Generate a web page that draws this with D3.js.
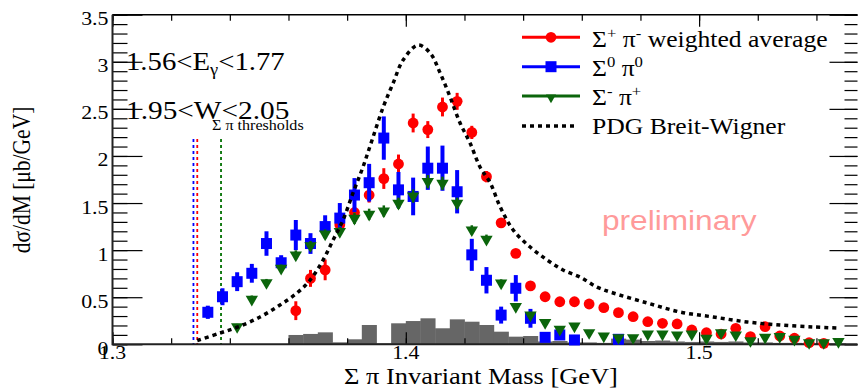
<!DOCTYPE html>
<html><head><meta charset="utf-8">
<script src="https://cdn.jsdelivr.net/npm/d3@7"></script>
<style>html,body{margin:0;padding:0;background:#fff;} svg{display:block}</style>
</head><body><svg id="c" width="859" height="389"></svg>
<script>
// ---------------- data ----------------
const massRed = [1.3625,1.3675,1.3725,1.3775,1.3825,1.3875,1.3925,1.3975,1.4025,1.4075,1.4125,1.4175,1.4225,1.4275,1.4325,1.4375,1.4425,1.4475,1.4525,1.4575,1.4625,1.4675,1.4725,1.4775,1.4825,1.4875,1.4925,1.4975,1.5025,1.5075,1.5125,1.5175,1.5225,1.5275,1.5325,1.5375,1.5425];
const valRed  = [0.357,0.70,0.79,1.27,1.40,1.585,1.76,1.915,2.35,2.28,2.52,2.58,2.25,1.78,1.29,0.966,0.62,0.505,0.452,0.452,0.428,0.389,0.336,0.293,0.24,0.223,0.216,0.152,0.123,0.109,0.17,0.081,0.187,0.088,0.064,0.017,0.01];
const errRed  = [0.10,0.09,0.11,0.08,0.08,0.08,0.11,0.10,0.10,0.09,0.10,0.09,0.07,0.06,0.05,0.04,0.03,0.03,0.03,0.03,0.03,0.03,0.03,0.03,0.03,0.03,0.03,0.03,0.03,0.03,0.03,0.03,0.03,0.03,0.03,0.03,0.03];

const massBlue = [1.3325,1.3375,1.3425,1.3475,1.3525,1.3575,1.3625,1.3675,1.3725,1.3775,1.3825,1.3875,1.3925,1.3975,1.4025,1.4075,1.4125,1.4175,1.4225,1.4275,1.4325,1.4375,1.4425,1.4475,1.4525,1.4575,1.4725];
const valBlue  = [0.34,0.505,0.665,0.754,1.07,0.866,1.16,1.07,1.25,1.34,1.585,1.716,2.19,1.64,1.57,1.87,1.87,1.62,0.95,0.68,0.31,0.595,0.276,0.074,0.099,0.046,0.053];
const errBlue  = [0.07,0.09,0.10,0.10,0.13,0.08,0.16,0.11,0.12,0.16,0.18,0.20,0.23,0.19,0.20,0.23,0.24,0.23,0.17,0.14,0.09,0.14,0.10,0.03,0.03,0.03,0.03];

const massGreen = [1.3425,1.3475,1.3525,1.3575,1.3625,1.3675,1.3725,1.3775,1.3825,1.3875,1.3925,1.3975,1.4025,1.4075,1.4125,1.4175,1.4225,1.4275,1.4325,1.4375,1.4425,1.4475,1.4525,1.4575,1.4625,1.4675,1.4725,1.4775,1.4825,1.4875,1.4925,1.4975,1.5025,1.5075,1.5125,1.5175,1.5225,1.5275,1.5325,1.5375,1.5425,1.5475];
const valGreen  = [0.187,0.478,0.654,0.807,0.948,1.047,1.17,1.196,1.338,1.38,1.415,1.497,1.575,1.727,1.71,1.497,1.214,1.115,0.65,0.40,0.311,0.23,0.159,0.194,0.123,0.088,0.07,0.07,0.109,0.109,0.099,0.109,0.064,0.123,0.099,0.038,0.074,0.081,0.053,0.017,0.017,0.028];
const errGreen  = [0.03,0.04,0.04,0.04,0.05,0.05,0.05,0.05,0.06,0.06,0.06,0.06,0.07,0.07,0.07,0.06,0.05,0.05,0.04,0.03,0.03,0.02,0.02,0.02,0.02,0.02,0.02,0.02,0.02,0.02,0.02,0.02,0.02,0.02,0.02,0.02,0.02,0.02,0.02,0.02,0.02,0.02];

// PDG Breit-Wigner curve
const bwMass = [1.3289,1.3367,1.3428,1.3503,1.3571,1.3629,1.3674,1.3718,1.3752,1.3786,1.3820,1.3854,1.3885,1.3923,1.3957,1.3991,1.4042,1.4083,1.4117,1.4151,1.4185,1.4219,1.4253,1.4288,1.4322,1.4366,1.4424,1.4482,1.4536,1.4594,1.4652,1.4707,1.4823,1.4935,1.5048,1.5164,1.5276,1.5389,1.5474];
const bwVal  = [0.04,0.12,0.184,0.29,0.417,0.545,0.683,0.895,1.107,1.32,1.607,1.883,2.169,2.52,2.775,3.02,3.178,3.093,2.881,2.626,2.35,2.138,1.883,1.713,1.458,1.214,1.033,0.895,0.789,0.714,0.608,0.545,0.439,0.343,0.29,0.237,0.205,0.184,0.173];

// background histogram (bin low edges, width 0.005)
const histEdge = [1.360,1.365,1.370,1.375,1.380,1.385,1.390,1.395,1.400,1.405,1.410,1.415,1.420,1.425,1.430,1.435,1.440,1.445,1.450,1.455,1.460,1.465,1.470,1.475,1.480,1.485,1.490,1.495,1.500,1.505,1.510,1.515,1.520,1.525,1.530,1.535,1.540,1.545];
const histVal  = [0.099,0.11,0.127,0.021,0.053,0.205,0.01,0.223,0.247,0.276,0.17,0.265,0.24,0.205,0.134,0.081,0.088,0.03,0.035,0.02,0.02,0.015,0.06,0.05,0.035,0.04,0.03,0.025,0.03,0.025,0.03,0.02,0.02,0.015,0.015,0.01,0.01,0.01];
const histWidth = 0.005;

// Sigma-pi thresholds: Sigma0 pi0, Sigma+ pi-, Sigma- pi+
const thrMass = [1.3276,1.3289,1.3370];
const thrColor = ["#0000ff","#ff0000","#007000"];
const thrTop = 2.18;

const xTickLabels = ["1.3","1.4","1.5"];
const xTickVals = [1.3,1.4,1.5];
const yTickLabels = ["0","0.5","1","1.5","2","2.5","3","3.5"];
const yTickVals = [0,0.5,1,1.5,2,2.5,3,3.5];

const legendLabels = ["weighted average","","","PDG Breit-Wigner"];

// ---------------- drawing ----------------
const svg = d3.select("#c");
const L = 112.5, R = 857.5, T = 14.7, B = 344.3;
const x = d3.scaleLinear().domain([1.3, 1.554]).range([L, R]);
const y = d3.scaleLinear().domain([0, 3.5]).range([B, T]);
const SX = 1.15;
const SERIF = "'Liberation Serif','Times New Roman',serif";
const RED = "#ff0000", BLUE = "#0000ff", GREEN = "#0b650b";

function text(px, py, size, anchor, family) {
  return svg.append("text")
    .attr("transform", `translate(${px},${py}) scale(${SX},1)`)
    .attr("text-anchor", anchor)
    .style("font-family", family || SERIF)
    .style("font-size", size + "px")
    .attr("fill", "#000");
}

// histogram
svg.append("g").selectAll("rect").data(histEdge).join("rect")
  .attr("x", d => x(d))
  .attr("width", d => x(d + histWidth) - x(d) + 0.4)
  .attr("y", (d, i) => y(histVal[i]))
  .attr("height", (d, i) => y(0) - y(histVal[i]))
  .attr("fill", "#666666");

// threshold lines
svg.append("g").selectAll("line").data(thrMass).join("line")
  .attr("x1", d => x(d)).attr("x2", d => x(d))
  .attr("y1", y(thrTop)).attr("y2", y(0))
  .attr("stroke", (d, i) => thrColor[i])
  .attr("stroke-width", 1.8)
  .attr("stroke-dasharray", "3,3");

// axes ticks
const yMinor = d3.range(0, 3.51, 0.1).map(v => +v.toFixed(2));
const xMinor = d3.range(1.3, 1.555, 0.02).map(v => +v.toFixed(3));
const xMajor = [1.3, 1.4, 1.5];
function ticks(axisGen, tr) {
  const g = svg.append("g").attr("transform", tr).call(axisGen);
  g.select(".domain").remove();
  g.selectAll("line").attr("stroke", "#000").attr("stroke-width", 1.2);
  g.selectAll("text").remove();
}
ticks(d3.axisLeft(y).tickValues(yMinor).tickSize(-15), `translate(${L},0)`);
ticks(d3.axisLeft(y).tickValues(yTickVals).tickSize(-30), `translate(${L},0)`);
ticks(d3.axisRight(y).tickValues(yMinor).tickSize(-13), `translate(${R},0)`);
ticks(d3.axisRight(y).tickValues(yTickVals).tickSize(-28), `translate(${R},0)`);
ticks(d3.axisBottom(x).tickValues(xMinor).tickSize(-6), `translate(0,${B})`);
ticks(d3.axisBottom(x).tickValues(xMajor).tickSize(-12), `translate(0,${B})`);
ticks(d3.axisTop(x).tickValues(xMinor).tickSize(-6), `translate(0,${T})`);
ticks(d3.axisTop(x).tickValues(xMajor).tickSize(-12), `translate(0,${T})`);

// frame
svg.append("path")
  .attr("d", `M${L},${T}H${R}`).attr("stroke", "#000").attr("stroke-width", 1.5).attr("fill", "none");
svg.append("path")
  .attr("d", `M${L},${T}V${B}H${R}`).attr("stroke", "#222").attr("stroke-width", 2).attr("fill", "none");

// tick labels
yTickVals.forEach((v, i) => text(L - 4, y(v) + 10.5, 19, "end").text(yTickLabels[i]));
xTickVals.forEach((v, i) => text(x(v), B + 15, 19, "middle").text(xTickLabels[i]));

// axis titles
svg.append("text")
  .attr("transform", `translate(30,180) scale(${SX},1) rotate(-90)`)
  .attr("text-anchor", "middle")
  .style("font-family", SERIF).style("font-size", "21.5px")
  .text("dσ/dM [μb/GeV]");
text(481, 384, 23, "middle").text("Σ π Invariant Mass [GeV]");

// data
function errbars(mass, val, err, color, w) {
  svg.append("g").selectAll("line").data(mass).join("line")
    .attr("x1", d => x(d)).attr("x2", d => x(d))
    .attr("y1", (d, i) => y(Math.max(0, val[i] - err[i])))
    .attr("y2", (d, i) => y(val[i] + err[i]))
    .attr("stroke", color).attr("stroke-width", w);
}
errbars(massRed, valRed, errRed, RED, 3);
svg.append("g").selectAll("circle").data(massRed).join("circle")
  .attr("cx", d => x(d)).attr("cy", (d, i) => y(valRed[i])).attr("r", 5.4).attr("fill", RED);

errbars(massBlue, valBlue, errBlue, BLUE, 4);
svg.append("g").selectAll("rect").data(massBlue).join("rect")
  .attr("x", d => x(d) - 5.5).attr("y", (d, i) => y(valBlue[i]) - 5.5)
  .attr("width", 11).attr("height", 11).attr("fill", BLUE);

errbars(massGreen, valGreen, errGreen, GREEN, 2.5);
const tri = d3.symbol(d3.symbolTriangle, 66);
svg.append("g").selectAll("path").data(massGreen).join("path")
  .attr("d", tri)
  .attr("transform", (d, i) => `translate(${x(d)},${y(valGreen[i])}) rotate(180)`)
  .attr("fill", GREEN);

// BW curve
svg.append("path")
  .datum(bwMass.map((m, i) => [m, bwVal[i]]))
  .attr("d", d3.line().x(d => x(d[0])).y(d => y(d[1])).curve(d3.curveCatmullRom))
  .attr("fill", "none").attr("stroke", "#000").attr("stroke-width", 3.5)
  .attr("stroke-dasharray", "4,4");

// annotations
const t1 = text(126, 70, 25, "start");
t1.append("tspan").text("1.56<E");
t1.append("tspan").attr("dy", 5).style("font-size", "16px").text("γ");
t1.append("tspan").attr("dy", -5).text("<1.77");
text(126, 119, 25.5, "start").text("1.95<W<2.05");
text(212, 130, 14, "start").text("Σ π thresholds");

// preliminary
text(602, 230, 27.5, "start", "'Liberation Sans',Arial,sans-serif").attr("fill", "#ff9a9a").text("preliminary");

// legend
const legY = [37.3, 66.7, 96, 126];
const lg = svg.append("g");
lg.append("line").attr("x1", 522).attr("x2", 580).attr("y1", legY[0]).attr("y2", legY[0]).attr("stroke", RED).attr("stroke-width", 3);
lg.append("circle").attr("cx", 551).attr("cy", legY[0]).attr("r", 5.4).attr("fill", RED);
lg.append("line").attr("x1", 522).attr("x2", 580).attr("y1", legY[1]).attr("y2", legY[1]).attr("stroke", BLUE).attr("stroke-width", 3);
lg.append("rect").attr("x", 545.5).attr("y", legY[1] - 5.5).attr("width", 11).attr("height", 11).attr("fill", BLUE);
lg.append("line").attr("x1", 522).attr("x2", 580).attr("y1", legY[2]).attr("y2", legY[2]).attr("stroke", GREEN).attr("stroke-width", 3);
lg.append("path").attr("d", d3.symbol(d3.symbolTriangle, 44)).attr("transform", `translate(551,${legY[2] + 1.5}) rotate(180)`).attr("fill", GREEN);
lg.append("line").attr("x1", 522).attr("x2", 578).attr("y1", legY[3]).attr("y2", legY[3]).attr("stroke", "#000").attr("stroke-width", 3.5).attr("stroke-dasharray", "4,4");

function supText(px, py, parts) {
  const t = text(px, py, 22.3, "start");
  parts.forEach(p => {
    if (p.sup) t.append("tspan").attr("dy", -9).style("font-size", "14.5px").text(p.sup);
    if (p.txt !== undefined) t.append("tspan").attr("dy", p.after ? 9 : 0).text(p.txt);
  });
  return t;
}
supText(592, 46.7, [{txt: "Σ"}, {sup: "+"}, {txt: " π", after: true}, {sup: "-"}, {txt: " " + legendLabels[0], after: true}]);
supText(592, 75.5, [{txt: "Σ"}, {sup: "0"}, {txt: " π", after: true}, {sup: "0"}]);
supText(592, 104.5, [{txt: "Σ"}, {sup: "-"}, {txt: " π", after: true}, {sup: "+"}]);
text(592, 133.5, 22.3, "start").text(legendLabels[3]);
</script>
</body></html>
